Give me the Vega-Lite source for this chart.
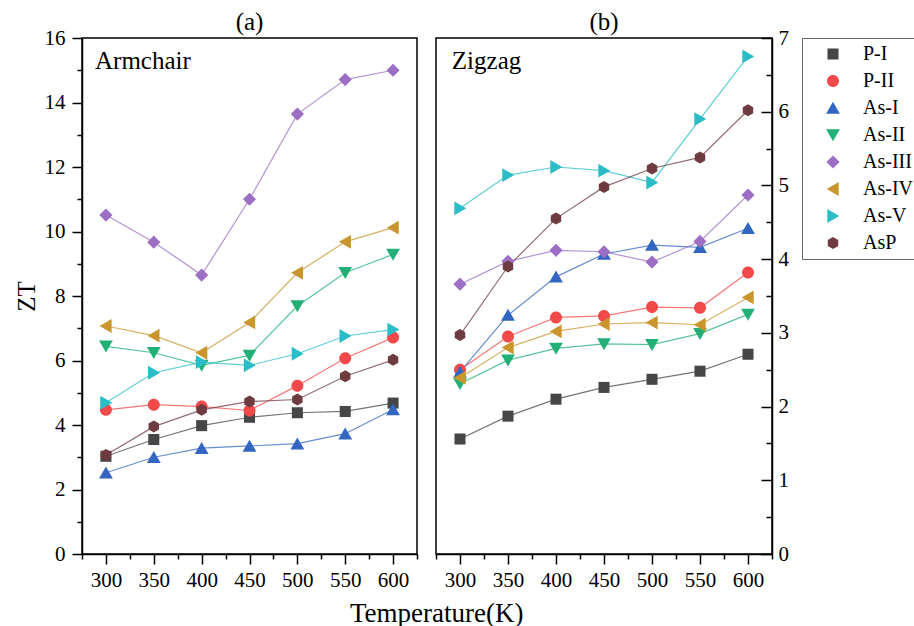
{
  "$schema": "https://vega.github.io/schema/vega-lite/v6.json",
  "autosize": {"type": "pad"},
  "padding": {"left": 13, "top": 9, "right": 0, "bottom": 0},
  "background": "white",
  "config": {
    "font": "Liberation Serif, Times New Roman, DejaVu Serif, serif",
    "view": {"stroke": "black", "strokeWidth": 1.5},
    "axis": {
      "grid": false,
      "domainColor": "black",
      "domainWidth": 1.5,
      "tickColor": "black",
      "tickWidth": 1.5,
      "labelColor": "black",
      "labelFont": "Liberation Serif, Times New Roman, DejaVu Serif, serif",
      "labelFontSize": 21,
      "labelFlush": false,
      "labelOverlap": false,
      "titleFont": "Liberation Serif, Times New Roman, DejaVu Serif, serif",
      "titleFontWeight": "normal",
      "titleColor": "black"
    },
    "legend": {
      "labelFont": "Liberation Serif, Times New Roman, DejaVu Serif, serif"
    },
    "title": {"font": "Liberation Serif, Times New Roman, DejaVu Serif, serif", "fontWeight": "normal", "color": "black"}
  },
  "datasets": {
    "zt": [
      {"p": "a", "s": "P-I", "T": 300, "ZT": 3.03}, {"p": "a", "s": "P-I", "T": 350, "ZT": 3.55}, {"p": "a", "s": "P-I", "T": 400, "ZT": 3.98}, {"p": "a", "s": "P-I", "T": 450, "ZT": 4.24}, {"p": "a", "s": "P-I", "T": 500, "ZT": 4.38}, {"p": "a", "s": "P-I", "T": 550, "ZT": 4.42}, {"p": "a", "s": "P-I", "T": 600, "ZT": 4.68},
      {"p": "a", "s": "P-II", "T": 300, "ZT": 4.47}, {"p": "a", "s": "P-II", "T": 350, "ZT": 4.63}, {"p": "a", "s": "P-II", "T": 400, "ZT": 4.57}, {"p": "a", "s": "P-II", "T": 450, "ZT": 4.45}, {"p": "a", "s": "P-II", "T": 500, "ZT": 5.22}, {"p": "a", "s": "P-II", "T": 550, "ZT": 6.07}, {"p": "a", "s": "P-II", "T": 600, "ZT": 6.71},
      {"p": "a", "s": "As-I", "T": 300, "ZT": 2.52}, {"p": "a", "s": "As-I", "T": 350, "ZT": 3.0}, {"p": "a", "s": "As-I", "T": 400, "ZT": 3.28}, {"p": "a", "s": "As-I", "T": 450, "ZT": 3.35}, {"p": "a", "s": "As-I", "T": 500, "ZT": 3.42}, {"p": "a", "s": "As-I", "T": 550, "ZT": 3.73}, {"p": "a", "s": "As-I", "T": 600, "ZT": 4.48},
      {"p": "a", "s": "As-II", "T": 300, "ZT": 6.44}, {"p": "a", "s": "As-II", "T": 350, "ZT": 6.24}, {"p": "a", "s": "As-II", "T": 400, "ZT": 5.85}, {"p": "a", "s": "As-II", "T": 450, "ZT": 6.16}, {"p": "a", "s": "As-II", "T": 500, "ZT": 7.69}, {"p": "a", "s": "As-II", "T": 550, "ZT": 8.72}, {"p": "a", "s": "As-II", "T": 600, "ZT": 9.29},
      {"p": "a", "s": "As-III", "T": 300, "ZT": 10.51}, {"p": "a", "s": "As-III", "T": 350, "ZT": 9.67}, {"p": "a", "s": "As-III", "T": 400, "ZT": 8.65}, {"p": "a", "s": "As-III", "T": 450, "ZT": 11.0}, {"p": "a", "s": "As-III", "T": 500, "ZT": 13.64}, {"p": "a", "s": "As-III", "T": 550, "ZT": 14.71}, {"p": "a", "s": "As-III", "T": 600, "ZT": 15.0},
      {"p": "a", "s": "As-IV", "T": 300, "ZT": 7.07}, {"p": "a", "s": "As-IV", "T": 350, "ZT": 6.77}, {"p": "a", "s": "As-IV", "T": 400, "ZT": 6.24}, {"p": "a", "s": "As-IV", "T": 450, "ZT": 7.18}, {"p": "a", "s": "As-IV", "T": 500, "ZT": 8.72}, {"p": "a", "s": "As-IV", "T": 550, "ZT": 9.68}, {"p": "a", "s": "As-IV", "T": 600, "ZT": 10.12},
      {"p": "a", "s": "As-V", "T": 300, "ZT": 4.69}, {"p": "a", "s": "As-V", "T": 350, "ZT": 5.62}, {"p": "a", "s": "As-V", "T": 400, "ZT": 5.95}, {"p": "a", "s": "As-V", "T": 450, "ZT": 5.85}, {"p": "a", "s": "As-V", "T": 500, "ZT": 6.21}, {"p": "a", "s": "As-V", "T": 550, "ZT": 6.76}, {"p": "a", "s": "As-V", "T": 600, "ZT": 6.96},
      {"p": "a", "s": "AsP", "T": 300, "ZT": 3.07}, {"p": "a", "s": "AsP", "T": 350, "ZT": 3.95}, {"p": "a", "s": "AsP", "T": 400, "ZT": 4.47}, {"p": "a", "s": "AsP", "T": 450, "ZT": 4.73}, {"p": "a", "s": "AsP", "T": 500, "ZT": 4.79}, {"p": "a", "s": "AsP", "T": 550, "ZT": 5.51}, {"p": "a", "s": "AsP", "T": 600, "ZT": 6.02},
      {"p": "b", "s": "P-I", "T": 300, "ZT": 1.56}, {"p": "b", "s": "P-I", "T": 350, "ZT": 1.87}, {"p": "b", "s": "P-I", "T": 400, "ZT": 2.10}, {"p": "b", "s": "P-I", "T": 450, "ZT": 2.26}, {"p": "b", "s": "P-I", "T": 500, "ZT": 2.37}, {"p": "b", "s": "P-I", "T": 550, "ZT": 2.48}, {"p": "b", "s": "P-I", "T": 600, "ZT": 2.71},
      {"p": "b", "s": "P-II", "T": 300, "ZT": 2.50}, {"p": "b", "s": "P-II", "T": 350, "ZT": 2.95}, {"p": "b", "s": "P-II", "T": 400, "ZT": 3.21}, {"p": "b", "s": "P-II", "T": 450, "ZT": 3.23}, {"p": "b", "s": "P-II", "T": 500, "ZT": 3.35}, {"p": "b", "s": "P-II", "T": 550, "ZT": 3.34}, {"p": "b", "s": "P-II", "T": 600, "ZT": 3.82},
      {"p": "b", "s": "As-I", "T": 300, "ZT": 2.47}, {"p": "b", "s": "As-I", "T": 350, "ZT": 3.24}, {"p": "b", "s": "As-I", "T": 400, "ZT": 3.76}, {"p": "b", "s": "As-I", "T": 450, "ZT": 4.07}, {"p": "b", "s": "As-I", "T": 500, "ZT": 4.19}, {"p": "b", "s": "As-I", "T": 550, "ZT": 4.16}, {"p": "b", "s": "As-I", "T": 600, "ZT": 4.42},
      {"p": "b", "s": "As-II", "T": 300, "ZT": 2.31}, {"p": "b", "s": "As-II", "T": 350, "ZT": 2.63}, {"p": "b", "s": "As-II", "T": 400, "ZT": 2.79}, {"p": "b", "s": "As-II", "T": 450, "ZT": 2.85}, {"p": "b", "s": "As-II", "T": 500, "ZT": 2.84}, {"p": "b", "s": "As-II", "T": 550, "ZT": 2.99}, {"p": "b", "s": "As-II", "T": 600, "ZT": 3.25},
      {"p": "b", "s": "As-III", "T": 300, "ZT": 3.66}, {"p": "b", "s": "As-III", "T": 350, "ZT": 3.97}, {"p": "b", "s": "As-III", "T": 400, "ZT": 4.12}, {"p": "b", "s": "As-III", "T": 450, "ZT": 4.10}, {"p": "b", "s": "As-III", "T": 500, "ZT": 3.96}, {"p": "b", "s": "As-III", "T": 550, "ZT": 4.24}, {"p": "b", "s": "As-III", "T": 600, "ZT": 4.87},
      {"p": "b", "s": "As-IV", "T": 300, "ZT": 2.39}, {"p": "b", "s": "As-IV", "T": 350, "ZT": 2.80}, {"p": "b", "s": "As-IV", "T": 400, "ZT": 3.02}, {"p": "b", "s": "As-IV", "T": 450, "ZT": 3.12}, {"p": "b", "s": "As-IV", "T": 500, "ZT": 3.14}, {"p": "b", "s": "As-IV", "T": 550, "ZT": 3.11}, {"p": "b", "s": "As-IV", "T": 600, "ZT": 3.48},
      {"p": "b", "s": "As-V", "T": 300, "ZT": 4.69}, {"p": "b", "s": "As-V", "T": 350, "ZT": 5.14}, {"p": "b", "s": "As-V", "T": 400, "ZT": 5.25}, {"p": "b", "s": "As-V", "T": 450, "ZT": 5.20}, {"p": "b", "s": "As-V", "T": 500, "ZT": 5.04}, {"p": "b", "s": "As-V", "T": 550, "ZT": 5.90}, {"p": "b", "s": "As-V", "T": 600, "ZT": 6.75},
      {"p": "b", "s": "AsP", "T": 300, "ZT": 2.97}, {"p": "b", "s": "AsP", "T": 350, "ZT": 3.90}, {"p": "b", "s": "AsP", "T": 400, "ZT": 4.55}, {"p": "b", "s": "AsP", "T": 450, "ZT": 4.98}, {"p": "b", "s": "AsP", "T": 500, "ZT": 5.23}, {"p": "b", "s": "AsP", "T": 550, "ZT": 5.38}, {"p": "b", "s": "AsP", "T": 600, "ZT": 6.02}
    ]
  },
  "title": {"text": "Temperature(K)", "orient": "bottom", "anchor": "middle", "fontSize": 27, "offset": 10, "dx": -30},
  "spacing": 15,
  "resolve": {"legend": {"fill": "independent", "shape": "independent"}},
  "hconcat": [
    {
      "width": 335,
      "height": 516,
      "title": {"text": "(a)", "frame": "group", "fontSize": 25, "offset": -8},
      "layer": [
        {
          "data": {"name": "zt"},
          "transform": [{"filter": "datum.p === 'a'"}],
          "mark": {"type": "line", "strokeWidth": 1.2, "opacity": 0.75},
          "encoding": {
            "x": {"field": "T", "type": "quantitative"},
            "y": {"field": "ZT", "type": "quantitative"},
            "stroke": {"field": "s", "type": "nominal", "scale": {"domain": ["P-I", "P-II", "As-I", "As-II", "As-III", "As-IV", "As-V", "AsP"], "range": ["#464646", "#f24a4a", "#3366c0", "#22b077", "#9c6fc4", "#c9952d", "#2abdc7", "#6e3c40"]}, "legend": null}
          }
        },
        {
          "data": {"name": "zt"},
          "transform": [{"filter": "datum.p === 'a'"}],
          "mark": {"type": "point", "filled": true, "size": 144, "opacity": 1},
          "encoding": {
            "x": {"field": "T", "type": "quantitative"},
            "y": {"field": "ZT", "type": "quantitative"},
            "fill": {"field": "s", "type": "nominal", "scale": {"domain": ["P-I", "P-II", "As-I", "As-II", "As-III", "As-IV", "As-V", "AsP"], "range": ["#464646", "#f24a4a", "#3366c0", "#22b077", "#9c6fc4", "#c9952d", "#2abdc7", "#6e3c40"]}, "legend": null},
            "shape": {"field": "s", "type": "nominal", "scale": {"domain": ["P-I", "P-II", "As-I", "As-II", "As-III", "As-IV", "As-V", "AsP"], "range": ["M-0.92,-0.92L0.92,-0.92L0.92,0.92L-0.92,0.92Z", "M1,0A1,1,0,1,1,-1,0A1,1,0,1,1,1,0Z", "M0,-1.05L1.15,0.95L-1.15,0.95Z", "M0,1.05L1.15,-0.95L-1.15,-0.95Z", "M0,-1.1L1.1,0L0,1.1L-1.1,0Z", "M-1.05,0L0.95,-1.15L0.95,1.15Z", "M1.05,0L-0.95,-1.15L-0.95,1.15Z", "M0,-1L0.87,-0.5L0.87,0.5L0,1L-0.87,0.5L-0.87,-0.5Z"]}, "legend": null}
          }
        },
        {
          "data": {"name": "zt"},
          "transform": [{"filter": "datum.p === 'a' && datum.s === 'P-I' && datum.T === 300"}],
          "mark": {"type": "text", "text": "Armchair", "align": "left", "baseline": "alphabetic", "fontSize": 25, "fill": "black", "font": "Liberation Serif"},
          "encoding": {
            "x": {"datum": 288.6, "type": "quantitative"},
            "y": {"datum": 15.05, "type": "quantitative"}
          }
        }
      ],
      "encoding": {
        "x": {
          "field": "T", "type": "quantitative",
          "scale": {"domain": [275, 625], "nice": false, "zero": false},
          "axis": {
            "title": null,
            "values": [275, 300, 325, 350, 375, 400, 425, 450, 475, 500, 525, 550, 575, 600, 625],
            "tickSize": {"condition": {"test": "datum.value % 50 === 0", "value": 10}, "value": 5},
            "labelExpr": "datum.value % 50 === 0 ? datum.label : ''",
            "labelPadding": 5,
            "labelFont": "Liberation Serif"
          }
        },
        "y": {
          "field": "ZT", "type": "quantitative",
          "scale": {"domain": [0, 16], "nice": false},
          "axis": {
            "title": "ZT",
            "titleFontSize": 25,
            "titlePadding": 5,
            "values": [0, 1, 2, 3, 4, 5, 6, 7, 8, 9, 10, 11, 12, 13, 14, 15, 16],
            "tickSize": {"condition": {"test": "datum.value % 2 === 0", "value": 10}, "value": 5},
            "labelExpr": "datum.value % 2 === 0 ? datum.label : ''",
            "labelPadding": 7,
            "labelFont": "Liberation Serif"
          }
        }
      }
    },
    {
      "width": 336,
      "height": 516,
      "title": {"text": "(b)", "frame": "group", "fontSize": 25, "offset": -8},
      "layer": [
        {
          "data": {"name": "zt"},
          "transform": [{"filter": "datum.p === 'b'"}],
          "mark": {"type": "line", "strokeWidth": 1.2, "opacity": 0.75},
          "encoding": {
            "x": {"field": "T", "type": "quantitative"},
            "y": {"field": "ZT", "type": "quantitative"},
            "stroke": {"field": "s", "type": "nominal", "legend": null}
          }
        },
        {
          "data": {"name": "zt"},
          "transform": [{"filter": "datum.p === 'b'"}],
          "mark": {"type": "point", "filled": true, "size": 144, "opacity": 1},
          "encoding": {
            "x": {"field": "T", "type": "quantitative"},
            "y": {"field": "ZT", "type": "quantitative"},
            "fill": {
              "field": "s", "type": "nominal",
              "legend": {
                "title": null, "orient": "right", "offset": 13, "strokeColor": "#666666", "padding": 6,
                "symbolSize": 144, "labelFontSize": 20, "labelColor": "black", "labelFont": "Liberation Serif",
                "rowPadding": 7, "labelLimit": 200, "symbolOffset": 15, "labelOffset": 20,
                "encode": {"symbols": {
                  "shape": {"value": {"expr": "datum.value === 'P-I' ? 'M-3.5,-0.1L3.5,-0.1L3.5,0.1L-3.5,0.1ZM-0.92,-0.92L0.92,-0.92L0.92,0.92L-0.92,0.92Z' : datum.value === 'P-II' ? 'M-3.5,-0.1L3.5,-0.1L3.5,0.1L-3.5,0.1ZM1,0A1,1,0,1,1,-1,0A1,1,0,1,1,1,0Z' : datum.value === 'As-I' ? 'M-3.5,-0.1L3.5,-0.1L3.5,0.1L-3.5,0.1ZM0,-1.05L1.15,0.95L-1.15,0.95Z' : datum.value === 'As-II' ? 'M-3.5,-0.1L3.5,-0.1L3.5,0.1L-3.5,0.1ZM0,1.05L1.15,-0.95L-1.15,-0.95Z' : datum.value === 'As-III' ? 'M-3.5,-0.1L3.5,-0.1L3.5,0.1L-3.5,0.1ZM0,-1.1L1.1,0L0,1.1L-1.1,0Z' : datum.value === 'As-IV' ? 'M-3.5,-0.1L3.5,-0.1L3.5,0.1L-3.5,0.1ZM-1.05,0L0.95,-1.15L0.95,1.15Z' : datum.value === 'As-V' ? 'M-3.5,-0.1L3.5,-0.1L3.5,0.1L-3.5,0.1ZM1.05,0L-0.95,-1.15L-0.95,1.15Z' : 'M-3.5,-0.1L3.5,-0.1L3.5,0.1L-3.5,0.1ZM0,-1L0.87,-0.5L0.87,0.5L0,1L-0.87,0.5L-0.87,-0.5Z'"}}
                }}
              }
            },
            "shape": {
              "field": "s", "type": "nominal",
              "legend": {
                "title": null, "orient": "right", "offset": 13, "strokeColor": "#666666", "padding": 6,
                "symbolSize": 144, "labelFontSize": 20, "labelColor": "black", "labelFont": "Liberation Serif",
                "rowPadding": 7, "labelLimit": 200, "symbolOffset": 15, "labelOffset": 20,
                "encode": {"symbols": {
                  "shape": {"value": {"expr": "datum.value === 'P-I' ? 'M-3.5,-0.1L3.5,-0.1L3.5,0.1L-3.5,0.1ZM-0.92,-0.92L0.92,-0.92L0.92,0.92L-0.92,0.92Z' : datum.value === 'P-II' ? 'M-3.5,-0.1L3.5,-0.1L3.5,0.1L-3.5,0.1ZM1,0A1,1,0,1,1,-1,0A1,1,0,1,1,1,0Z' : datum.value === 'As-I' ? 'M-3.5,-0.1L3.5,-0.1L3.5,0.1L-3.5,0.1ZM0,-1.05L1.15,0.95L-1.15,0.95Z' : datum.value === 'As-II' ? 'M-3.5,-0.1L3.5,-0.1L3.5,0.1L-3.5,0.1ZM0,1.05L1.15,-0.95L-1.15,-0.95Z' : datum.value === 'As-III' ? 'M-3.5,-0.1L3.5,-0.1L3.5,0.1L-3.5,0.1ZM0,-1.1L1.1,0L0,1.1L-1.1,0Z' : datum.value === 'As-IV' ? 'M-3.5,-0.1L3.5,-0.1L3.5,0.1L-3.5,0.1ZM-1.05,0L0.95,-1.15L0.95,1.15Z' : datum.value === 'As-V' ? 'M-3.5,-0.1L3.5,-0.1L3.5,0.1L-3.5,0.1ZM1.05,0L-0.95,-1.15L-0.95,1.15Z' : 'M-3.5,-0.1L3.5,-0.1L3.5,0.1L-3.5,0.1ZM0,-1L0.87,-0.5L0.87,0.5L0,1L-0.87,0.5L-0.87,-0.5Z'"}}
                }}
              }
            }
          }
        },
        {
          "data": {"name": "zt"},
          "transform": [{"filter": "datum.p === 'b' && datum.s === 'P-I' && datum.T === 300"}],
          "mark": {"type": "text", "text": "Zigzag", "align": "left", "baseline": "alphabetic", "fontSize": 25, "fill": "black", "font": "Liberation Serif"},
          "encoding": {
            "x": {"datum": 291.5, "type": "quantitative"},
            "y": {"datum": 6.58, "type": "quantitative"}
          }
        }
      ],
      "encoding": {
        "x": {
          "field": "T", "type": "quantitative",
          "scale": {"domain": [275, 625], "nice": false, "zero": false},
          "axis": {
            "title": null,
            "values": [275, 300, 325, 350, 375, 400, 425, 450, 475, 500, 525, 550, 575, 600, 625],
            "tickSize": {"condition": {"test": "datum.value % 50 === 0", "value": 10}, "value": 5},
            "labelExpr": "datum.value % 50 === 0 ? datum.label : ''",
            "labelPadding": 5,
            "labelFont": "Liberation Serif"
          }
        },
        "y": {
          "field": "ZT", "type": "quantitative",
          "scale": {"domain": [0, 7], "nice": false},
          "axis": {
            "title": null,
            "orient": "right",
            "values": [0, 0.5, 1, 1.5, 2, 2.5, 3, 3.5, 4, 4.5, 5, 5.5, 6, 6.5, 7],
            "tickSize": {"condition": {"test": "datum.value % 1 === 0", "value": -11}, "value": -6},
            "labelExpr": "datum.value % 1 === 0 ? format(datum.value, 'd') : ''",
            "labelPadding": 17,
            "labelFont": "Liberation Serif"
          }
        }
      }
    }
  ]
}
